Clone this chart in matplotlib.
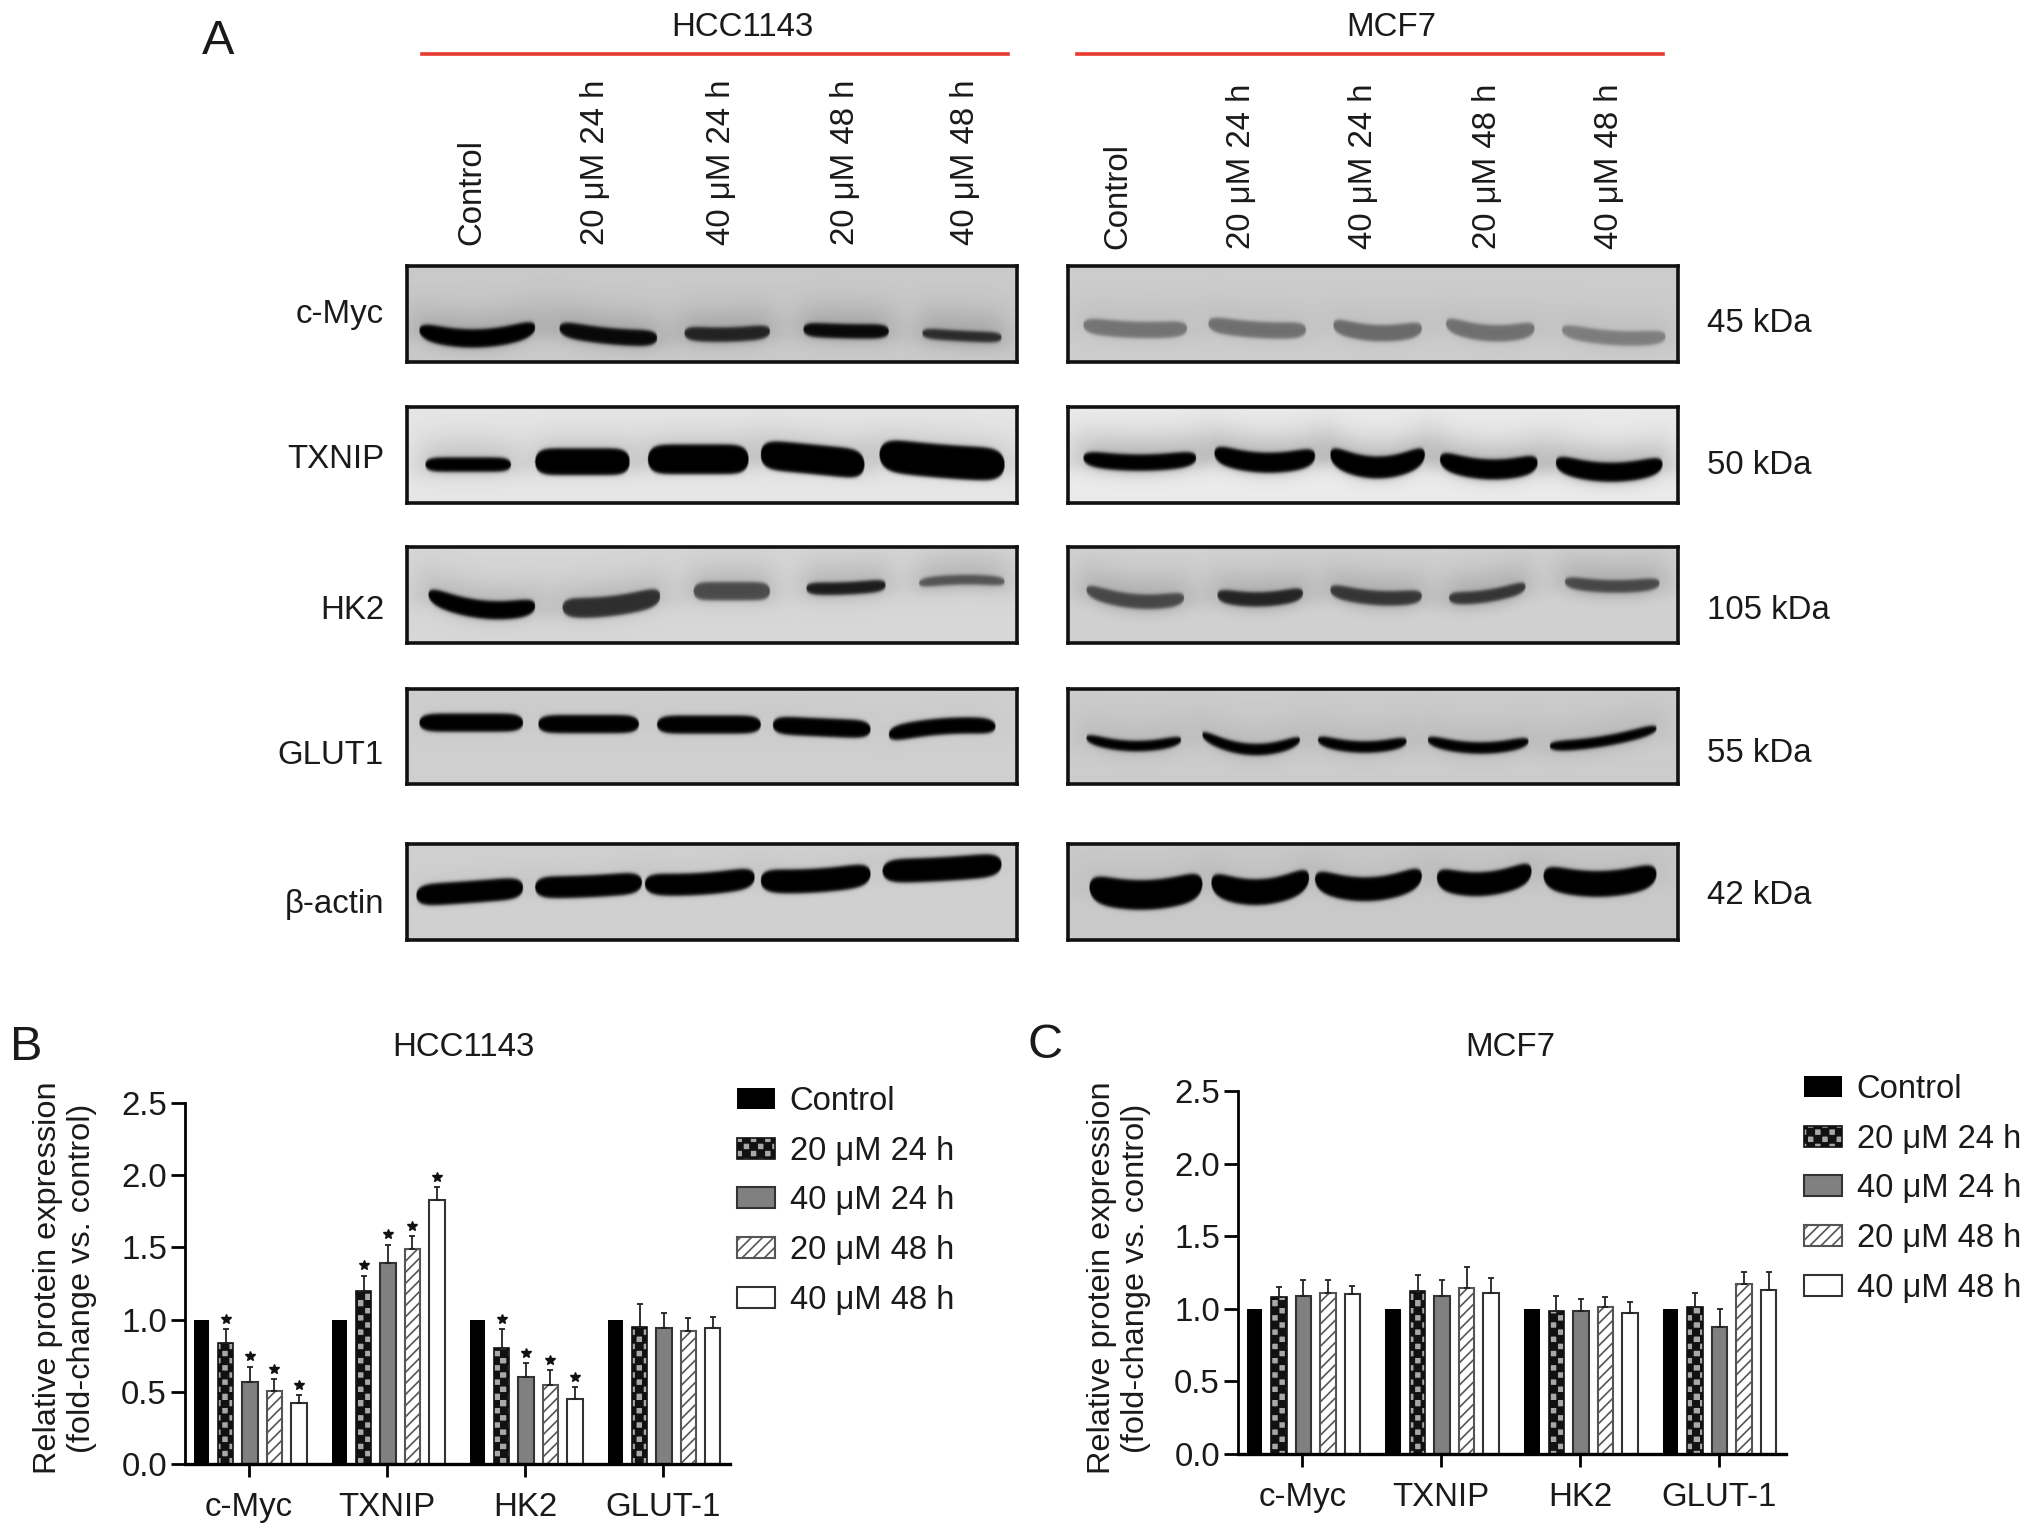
import numpy as np
import matplotlib
matplotlib.use('Agg')
import matplotlib.pyplot as plt
from matplotlib import hatch as mhatch
from matplotlib.path import Path

plt.rcParams['font.family'] = ['Liberation Sans', 'DejaVu Sans']
plt.rcParams['hatch.linewidth'] = 1.2

W = 2032
H = 1536

proteins = ['c-Myc', 'TXNIP', 'HK2', 'GLUT-1']
treatments = ['Control', '20 μM 24 h', '40 μM 24 h', '20 μM 48 h', '40 μM 48 h']
yTicks = [0.0, 0.5, 1.0, 1.5, 2.0, 2.5]

# panel B, one list per treatment, in the order of proteins
hccControl = [1.0, 1.0, 1.0, 1.0]
hcc20h24 = [0.835, 1.20, 0.80, 0.95]
hcc40h24 = [0.57, 1.39, 0.60, 0.945]
hcc20h48 = [0.505, 1.49, 0.55, 0.92]
hcc40h48 = [0.42, 1.83, 0.45, 0.945]
hccErr20h24 = [0.10, 0.105, 0.135, 0.155]
hccErr40h24 = [0.105, 0.13, 0.10, 0.10]
hccErr20h48 = [0.085, 0.09, 0.10, 0.09]
hccErr40h48 = [0.06, 0.09, 0.085, 0.075]
hccStars = [True, True, True, False]

# panel C
mcfControl = [1.0, 1.0, 1.0, 1.0]
mcf20h24 = [1.08, 1.12, 0.985, 1.01]
mcf40h24 = [1.09, 1.09, 0.985, 0.875]
mcf20h48 = [1.11, 1.145, 1.01, 1.17]
mcf40h48 = [1.105, 1.11, 0.97, 1.13]
mcfErr20h24 = [0.073, 0.115, 0.105, 0.10]
mcfErr40h24 = [0.105, 0.105, 0.085, 0.125]
mcfErr20h48 = [0.085, 0.14, 0.07, 0.085]
mcfErr40h48 = [0.055, 0.10, 0.08, 0.125]
mcfStars = [False, False, False, False]

# blot labels
blotNames = ['c-Myc', 'TXNIP', 'HK2', 'GLUT1', 'β-actin']
blotSizes = ['45 kDa', '50 kDa', '105 kDa', '55 kDa', '42 kDa']

# bands read from the blots: lane start, lane end, height at left, middle and
# right of the lane, half thickness, darkness (fractions of the blot box)
hccMyc = [(.02, .21, .67, .755, .64, .09, 1.0), (.25, .41, .65, .73, .75, .08, .95),
	(.455, .595, .70, .715, .68, .07, .8), (.65, .79, .66, .68, .68, .07, .95),
	(.845, .975, .70, .73, .745, .05, .75)]
hccTxnip = [(.03, .17, .60, .60, .60, .07, 1.0), (.21, .365, .57, .57, .57, .135, 1.0),
	(.395, .56, .545, .545, .545, .15, 1.0), (.58, .75, .495, .545, .60, .15, 1.0),
	(.775, .98, .495, .565, .60, .17, 1.0)]
hccHk2 = [(.035, .21, .495, .65, .615, .09, 1.0), (.255, .415, .63, .615, .51, .10, .75),
	(.47, .595, .46, .46, .46, .09, .6), (.655, .785, .43, .43, .395, .06, .85),
	(.84, .98, .375, .34, .36, .045, .55)]
hccGlut = [(.02, .19, .36, .36, .36, .09, 1.0), (.215, .38, .375, .375, .375, .09, 1.0),
	(.41, .58, .38, .38, .38, .09, 1.0), (.60, .76, .385, .41, .43, .09, 1.0),
	(.79, .965, .485, .40, .40, .08, 1.0)]
hccActin = [(.015, .19, .535, .50, .455, .11, 1.0), (.21, .385, .45, .44, .40, .11, 1.0),
	(.39, .57, .415, .415, .345, .11, 1.0), (.58, .76, .38, .38, .31, .12, 1.0),
	(.78, .975, .28, .26, .21, .12, 1.0)]
mcfMyc = [(.025, .195, .615, .665, .65, .08, .4), (.23, .39, .60, .665, .665, .08, .42),
	(.435, .58, .615, .70, .65, .08, .45), (.62, .765, .60, .70, .65, .08, .42),
	(.81, .98, .665, .75, .735, .07, .35)]
mcfTxnip = [(.025, .21, .53, .58, .53, .08, 1.0), (.24, .405, .48, .58, .51, .10, 1.0),
	(.43, .585, .495, .63, .495, .11, 1.0), (.61, .77, .545, .65, .58, .10, 1.0),
	(.80, .975, .58, .68, .595, .095, 1.0)]
mcfHk2 = [(.03, .19, .445, .565, .53, .07, .6), (.245, .385, .50, .545, .48, .07, .8),
	(.43, .58, .445, .53, .51, .07, .7), (.625, .75, .53, .51, .41, .06, .7),
	(.815, .97, .36, .41, .375, .06, .6)]
mcfGlut = [(.03, .185, .52, .605, .54, .05, 1.0), (.22, .38, .485, .64, .54, .055, 1.0),
	(.41, .555, .54, .615, .555, .055, 1.0), (.59, .755, .54, .625, .555, .055, 1.0),
	(.79, .965, .605, .555, .42, .05, 1.0)]
mcfActin = [(.035, .22, .45, .53, .415, .15, 1.0), (.235, .395, .40, .50, .35, .13, 1.0),
	(.405, .58, .365, .47, .33, .12, 1.0), (.605, .76, .35, .415, .28, .12, 1.0),
	(.78, .965, .33, .415, .31, .13, 1.0)]
hccBlots = [hccMyc, hccTxnip, hccHk2, hccGlut, hccActin]
mcfBlots = [mcfMyc, mcfTxnip, mcfHk2, mcfGlut, mcfActin]
hccBackground = [.79, .90, .84, .81, .82]
mcfBackground = [.80, .92, .82, .80, .79]
hccSmear = [.16, .14, .14, .02, .04]
mcfSmear = [.06, .22, .16, .08, .06]


class Checker(mhatch.HatchPatternBase):
	# small filled squares, matplotlib has no checkerboard hatch
	def __init__(self, hatch, density):
		self.cells = 14 if '.' in hatch else 0
		self.num_vertices = self.cells * self.cells // 2 * 5

	def set_vertices_and_codes(self, vertices, codes):
		size = 1.0 / self.cells
		pos = 0
		for i in range(self.cells):
			for j in range(self.cells):
				if (i + j) % 2 == 0:
					x = i * size
					y = j * size
					vertices[pos:pos + 5] = [(x, y), (x + size, y), (x + size, y + size), (x, y + size), (x, y)]
					codes[pos:pos + 5] = [Path.MOVETO, Path.LINETO, Path.LINETO, Path.LINETO, Path.CLOSEPOLY]
					pos += 5


mhatch._hatch_types = [t for t in mhatch._hatch_types if t is not mhatch.SmallFilledCircles] + [Checker]


def pixelAxes(left, top, right, bottom):
	return fig.add_axes([left / W, 1 - bottom / H, (right - left) / W, (bottom - top) / H])


def pixelText(x, y, text, **kw):
	kw.setdefault('fontsize', 23.8)
	kw.setdefault('va', 'center')
	kw.setdefault('ha', 'center')
	kw.setdefault('color', '#1a1a1a')
	fig.text(x / W, 1 - y / H, text, **kw)


def drawBlot(left, top, right, bottom, bands, background, smear):
	ax = pixelAxes(left, top, right, bottom)
	rows = int(bottom - top) * 2
	cols = int(right - left) * 2
	xs, ys = np.meshgrid(np.linspace(0, 1, cols), np.linspace(0, 1, rows))
	image = np.full((rows, cols), background)
	for x0, x1, yl, ym, yr, half, dark in bands:
		u = np.clip((xs - x0) / (x1 - x0), 0, 1)
		centre = yl * (1 - u) * (1 - 2 * u) + 4 * ym * u * (1 - u) + yr * u * (2 * u - 1)
		taper = np.sqrt(np.clip(1 - (2 * u - 1) ** 8, 0, 1))
		inside = (half * taper + 0.006 - np.abs(ys - centre)) / 0.04
		band = 1 / (1 + np.exp(-4 * np.clip(inside, -10, 10)))
		band[(xs < x0) | (xs > x1)] = 0
		# soft shadow round the band, wider above it than below, fading out sideways
		reach = np.where(ys < centre, 0.30, 0.14)
		side = np.exp(-((xs - (x0 + x1) / 2) / ((x1 - x0) * 0.62)) ** 4)
		haze = np.exp(-((ys - centre) / reach) ** 2) * side
		image = image * (1 - smear * haze) * (1 - dark * band)
	ax.imshow(image, cmap='gray', vmin=0, vmax=1, aspect='auto', interpolation='bilinear')
	ax.set_xticks([])
	ax.set_yticks([])
	for spine in ax.spines.values():
		spine.set_linewidth(2.6)
		spine.set_color('#111111')


def drawBars(axBox, series, errors, stars, legendAt):
	ax = pixelAxes(*axBox)
	pitch = 0.1765
	width = 0.112
	groups = np.arange(len(proteins))
	styles = [
		dict(color='black'),
		dict(facecolor='#a8a8a8', edgecolor='#111111', hatch='.', linewidth=1.2),
		dict(facecolor='#808080', edgecolor='#333333', linewidth=1.5),
		dict(facecolor='white', edgecolor='#555555', hatch='///', linewidth=1.5),
		dict(facecolor='white', edgecolor='#333333', linewidth=1.5),
	]
	handles = []
	for i, values in enumerate(series):
		offset = (i - 2) * pitch + 0.008
		handles.append(ax.bar(groups + offset, values, width, label=treatments[i], **styles[i]))
		if i == 0:
			continue
		upper = errors[i - 1]
		ax.errorbar(groups + offset, values, yerr=[np.zeros(len(upper)), upper], fmt='none',
			ecolor='#222222', elinewidth=1.3, capsize=2.5, capthick=1.3)
		for g, flag in enumerate(stars):
			if flag:
				ax.plot(g + offset, values[g] + upper[g] + 0.07, marker='*', color='#111111', markersize=7)
	ax.set_xlim(-0.464, 3.486)
	ax.set_ylim(0, 2.5)
	ax.set_xticks(groups)
	ax.set_xticklabels(proteins)
	ax.set_yticks(yTicks)
	ax.set_yticklabels(['%.1f' % t for t in yTicks])
	ax.tick_params(axis='y', length=10, width=2, labelsize=23.8, pad=3, labelcolor='#1a1a1a')
	ax.tick_params(axis='x', length=9, width=2, labelsize=23.8, pad=11, labelcolor='#1a1a1a')
	ax.spines['top'].set_visible(False)
	ax.spines['right'].set_visible(False)
	ax.spines['left'].set_linewidth(2)
	ax.spines['bottom'].set_linewidth(2.4)
	legend = fig.legend(handles=handles, loc='upper left',
		bbox_to_anchor=(legendAt[0] / W, 1 - legendAt[1] / H), frameon=False, fontsize=23.6,
		borderpad=0, borderaxespad=0, handlelength=1.15, handleheight=0.6,
		handletextpad=0.46, labelspacing=0.57)
	for text in legend.get_texts():
		text.set_color('#1a1a1a')


fig = plt.figure(figsize=(W / 100, H / 100), dpi=100, facecolor='white')

# panel A
pixelText(218, 42, 'A', fontsize=35)
pixelText(742, 28, 'HCC1143')
pixelText(1391, 28, 'MCF7')
fig.add_artist(plt.Line2D([422 / W, 1008 / W], [1 - 54 / H, 1 - 54 / H], color='#e8392f', linewidth=2.6))
fig.add_artist(plt.Line2D([1077 / W, 1663 / W], [1 - 54 / H, 1 - 54 / H], color='#e8392f', linewidth=2.6))

laneLabels = ['Control', '20 μM 24 h', '40 μM 24 h', '20 μM 48 h', '40 μM 48 h']
hccLaneX = [472, 596, 722, 845, 966]
mcfLaneX = [1118, 1241, 1364, 1488, 1610]
for i in range(5):
	pixelText(hccLaneX[i], 245, laneLabels[i], rotation=90, va='bottom')
	pixelText(mcfLaneX[i], 249, laneLabels[i], rotation=90, va='bottom')

blotTops = [266, 407, 547, 689, 844]
blotBottoms = [362, 503, 643, 784, 940]
nameY = [315, 460, 610, 756, 904]
sizeY = [323, 466, 610, 753, 896]
for i in range(5):
	drawBlot(407, blotTops[i], 1017, blotBottoms[i], hccBlots[i], hccBackground[i], hccSmear[i])
	drawBlot(1068, blotTops[i], 1678, blotBottoms[i], mcfBlots[i], mcfBackground[i], mcfSmear[i])
	pixelText(384, nameY[i], blotNames[i], ha='right')
	pixelText(1707, sizeY[i], blotSizes[i], ha='left')

# panel B
pixelText(26, 1047, 'B', fontsize=35)
pixelText(463, 1047, 'HCC1143')
pixelText(65, 1278, 'Relative protein expression\n(fold-change vs. control)', rotation=90, linespacing=1.2, fontsize=23.4)
drawBars((185, 1103, 730, 1464),
	[hccControl, hcc20h24, hcc40h24, hcc20h48, hcc40h48],
	[hccErr20h24, hccErr40h24, hccErr20h48, hccErr40h48], hccStars, (737, 1086))

# panel C
pixelText(1045, 1046, 'C', fontsize=35)
pixelText(1510, 1047, 'MCF7')
pixelText(1119, 1278, 'Relative protein expression\n(fold-change vs. control)', rotation=90, linespacing=1.2, fontsize=23.4)
drawBars((1238, 1091, 1786, 1454),
	[mcfControl, mcf20h24, mcf40h24, mcf20h48, mcf40h48],
	[mcfErr20h24, mcfErr40h24, mcfErr20h48, mcfErr40h48], mcfStars, (1804, 1074))

fig.savefig('out.png', dpi=100)
